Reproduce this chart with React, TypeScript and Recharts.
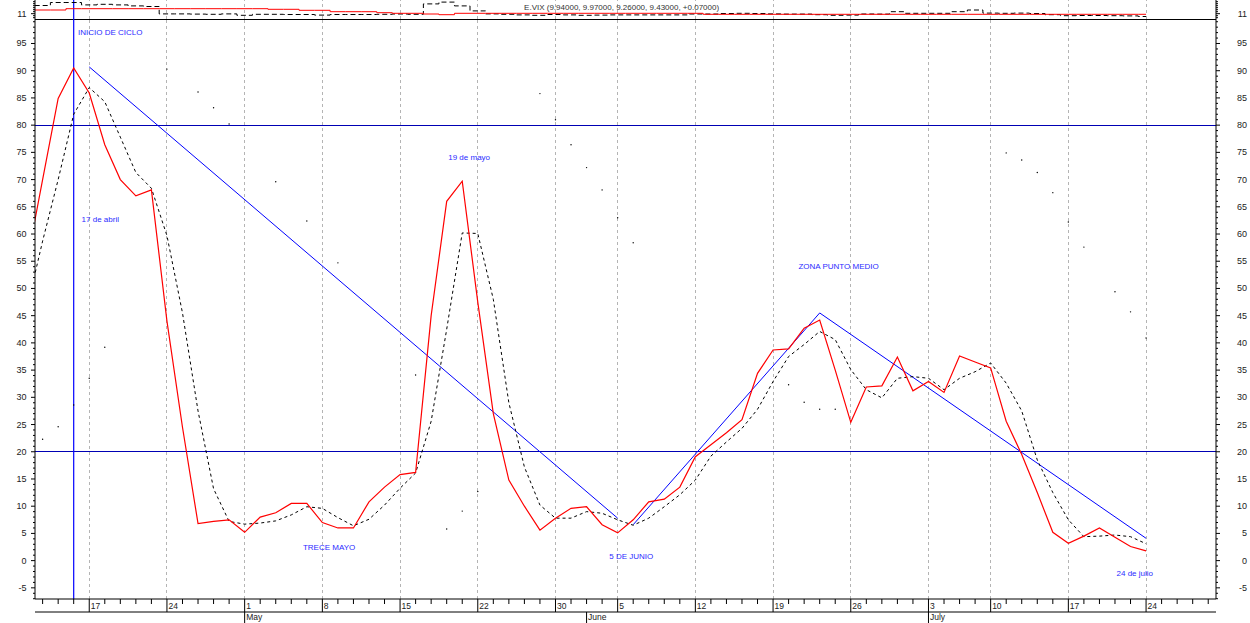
import React from "react";
import { ComposedChart, LineChart, Line, XAxis, YAxis, ReferenceLine, ReferenceDot } from "recharts";

// trading days, Apr 10 -> Jul 28
const days = [
  10, 11, 12, 13, 17, 18, 19, 20, 21, 24, 25, 26, 27, 28,
  1, 2, 3, 4, 5, 8, 9, 10, 11, 12, 15, 16, 17, 18, 19, 22, 23, 24, 25, 26, 30, 31,
  1, 2, 5, 6, 7, 8, 9, 12, 13, 14, 15, 16, 19, 20, 21, 22, 23, 26, 27, 28, 29, 30,
  3, 5, 6, 7, 10, 11, 12, 13, 14, 17, 18, 19, 20, 21, 24, 25, 26, 27, 28,
];
const weekStarts = [4, 9, 14, 19, 24, 29, 34, 38, 43, 48, 53, 58, 62, 67, 72];
const months = [
  { i: 14, label: "May" },
  { i: 36, label: "June" },
  { i: 58, label: "July" },
];

const oscillator = [
  55, 70, 84.9, 90.5, 85.9, 76.4, 70, 67, 68.1, 44, 24.5, 6.8, 7.2, 7.5,
  5.2, 8, 8.8, 10.5, 10.5, 7, 6, 6, 10.8, 13.5, 15.8, 16.2, 45, 66, 69.7, 47.5, 27, 14.8, 10, 5.6, 7.8, 9.6,
  9.9, 6.6, 5.1, 7.5, 10.8, 11.3, 13.5, 19.1, 21.3, 23.5, 25.9, 34.4, 38.7, 38.9, 42.7, 44.2, 35, 25.4, 31.9, 32.1, 37.4, 31.2,
  32.9, 30.9, 37.6, 36.5, 35.4, 25.6, 19.5, 12.5, 5.2, 3.2, 4.5, 6, 4.3, 2.6, 1.8,
];
const signal = [
  46.5, 58.7, 70, 82, 86.9, 84.3, 77.8, 71.3, 68.4, 59.7, 45.5, 27.5, 13.2, 7.2,
  6.7, 6.9, 7.3, 8.4, 9.9, 9.6, 7.9, 6.4, 7.6, 10.2, 13.3, 16.1, 25.6, 42.5, 60.2, 60.1, 48, 29, 17.2, 10.2, 7.8, 7.8,
  9, 8.7, 7.5, 6.5, 7.8, 9.9, 12.1, 14.8, 19.2, 21.8, 24.3, 27.8, 32.9, 37.5, 39.7, 42.1, 40.6, 35.1, 31.4, 29.9, 33.5, 33.8,
  33.5, 31.4, 33.5, 34.7, 36.3, 32.6, 27.5, 18.5, 12.5, 7.5, 4.4, 4.5, 4.7, 4.4, 3.1,
];
// sparse dotted series (one pixel per day), null where not seen
const dotted = [
  null, 22.3, 24.6, 28.6, 33.5, 39.2, null, null, null, 90.3, null, 86.1, 83.2, 80.2,
  null, null, 69.6, null, 62.4, null, 54.7, null, null, null, null, 34.1, null, 5.8, 9.1, 12.7, null, null, null, 85.8, 81, 76.4,
  72.2, 68.1, 63, 58.4, null, null, null, null, null, null, null, null, null, 32.3, 29.1, 27.8, 27.8, null, null, null, null, null,
  null, null, null, null, null, 74.9, 73.6, 71.3, 67.6, 62.2, 57.6, null, 49.4, 45.7, 40.9,
];

// top strip: E.VIX close and its average
const vixClose = [
  14.9, 15.1, 16.6, 16.6, 15.4, 15.7, 15.4, 14.9, 14.6, 10.9, 10.9, 10.8, 10.7, 10.9,
  10.2, 10.7, 10.7, 10.6, 10.6, 10.3, 10.6, 10.6, 10.6, 10.7, 10.85, 10.7, 15.9, 16.8, 14.9, 12.4, 10.9, 10.7, 10.4, 10.2, 10.6, 10.4,
  10.2, 10.3, 10.4, 10.4, 10.4, 10.4, 10.4, 10.85, 10.85, 11.1, 11.2, 11.1, 10.9, 10.8, 10.8, 10.5, 10.2, 10.3, 10.85, 10.8, 12, 11.2,
  11.2, 11.2, 12, 12.85, 11.3, 11.2, 11.3, 11.1, 10.5, 10, 10.1, 10.1, 10, 9.9, 9.6,
];
const vixAvg = [
  12.85, 12.85, 12.85, 13.5, 13.5, 13.5, 13.5, 13.5, 13.5, 13.5, 13.5, 13.5, 13.5, 13.5,
  13.5, 13.5, 13.2, 13.2, 12.7, 12.7, 12, 12, 12, 11.5, 11.2, 11.2, 10.85, 10.5, 11.2, 11.2, 11.2, 11.2, 11.2, 11.2, 11.2, 11.2,
  11.2, 11.2, 11.2, 11.2, 11.2, 11.2, 11.2, 11.2, 10.7, 10.7, 10.7, 10.7, 10.7, 10.7, 10.7, 10.7, 10.7, 10.7, 10.7, 10.7, 10.7, 10.7,
  10.7, 10.7, 10.7, 10.7, 10.7, 10.7, 10.7, 10.7, 10.7, 10.7, 10.7, 10.7, 10.7, 10.7, 10.7,
];

const trendLines = [
  [{ i: 4, v: 90.7 }, { i: 38, v: 7.8 }],
  [{ i: 39, v: 6.6 }, { i: 51, v: 45.5 }],
  [{ i: 51, v: 45.5 }, { i: 72, v: 4.1 }],
];
const cycleStart = 3;
const levels = [80, 20];

const notes = [
  { text: "INICIO DE CICLO", i: 3.28, v: 97 },
  { text: "17 de abril", i: 3.51, v: 62.6 },
  { text: "19 de mayo", i: 27.1, v: 74.1 },
  { text: "TRECE MAYO", i: 17.75, v: 2.5 },
  { text: "5 DE JUNIO", i: 37.46, v: 0.7 },
  { text: "ZONA PUNTO MEDIO", i: 49.63, v: 54 },
  { text: "24 de julio", i: 70.1, v: -2.4 },
];
const title = "E.VIX (9.94000, 9.97000, 9.26000, 9.43000, +0.07000)";

const rows = oscillator.map((o, i) => ({
  i,
  osc: o,
  sig: signal[i],
  dot: dotted[i],
  vix: vixClose[i],
  avg: vixAvg[i],
}));

const X_DOMAIN = [0.51, 76.5];
const Y_DOMAIN = [-7.05, 99.5];
const TOP_DOMAIN = [8.35, 17.85];
const PL = 35;
const PR = 1216;
const AXIS_Y = 599;
const ROW_Y = 612;
const FONT = "'Liberation Sans', Arial, sans-serif";

const xTicks = days.map((_, i) => i).filter((i) => i >= 1 && i <= 76);
const yTicks: number[] = [];
for (let v = -7; v <= 99; v++) yTicks.push(v);
const topTicks = [9, 10, 11, 12, 13, 14, 15, 16, 17];

const dayTick = (p: any) => {
  const i = p.payload.value;
  const week = weekStarts.includes(i);
  return (
    <g>
      <line x1={p.x} x2={p.x} y1={AXIS_Y} y2={week ? ROW_Y : AXIS_Y + 5} stroke="#000" />
      {week && (
        <text x={p.x + 1.5} y={608.5} fontSize={8.5} fontFamily={FONT} fill="#222">
          {days[i]}
        </text>
      )}
    </g>
  );
};

const monthTick = (p: any) => {
  const m = months.find((mm) => mm.i === p.payload.value);
  return (
    <g>
      <line x1={p.x} x2={p.x} y1={ROW_Y} y2={623} stroke="#000" />
      <text x={p.x + 1.5} y={619.5} fontSize={8.5} fontFamily={FONT} fill="#222">
        {m ? m.label : ""}
      </text>
    </g>
  );
};

const sideTick = (side: "l" | "r", labelEvery: number, only?: number) => (p: any) => {
  const v = p.payload.value;
  const major = only !== undefined ? v === only : v % labelEvery === 0;
  const len = major ? 4 : 2;
  const x0 = side === "l" ? PL : PR;
  const x1 = side === "l" ? PL - len : PR + len;
  return (
    <g>
      <line x1={x0} x2={x1} y1={p.y} y2={p.y} stroke="#000" />
      {major && (
        <text
          x={side === "l" ? 26.5 : 1247}
          y={p.y}
          dy={3}
          textAnchor="end"
          fontSize={9}
          fontFamily={FONT}
          fill="#222"
        >
          {v}
        </text>
      )}
    </g>
  );
};

const noteShape = (text: string, color: string) => (p: any) => (
  <text
    x={p.cx}
    y={p.cy}
    dominantBaseline="central"
    fontSize={8}
    fontFamily={FONT}
    fill={color}
  >
    {text}
  </text>
);

export default function App() {
  return (
    <div style={{ position: "absolute", left: 0, top: 0, width: 1250, height: 623, background: "#fff" }}>
      <div style={{ position: "absolute", left: 0, top: 0 }}>
        <ComposedChart width={1250} height={623} data={rows} margin={{ top: 19, right: 0, bottom: 0, left: 0 }}>
          <XAxis
            dataKey="i"
            type="number"
            domain={X_DOMAIN}
            ticks={xTicks}
            interval={0}
            height={13}
            tick={dayTick}
            tickLine={false}
            axisLine={{ stroke: "#000" }}
            allowDataOverflow
          />
          <XAxis
            xAxisId="m"
            dataKey="i"
            type="number"
            domain={X_DOMAIN}
            ticks={months.map((m) => m.i)}
            interval={0}
            height={11}
            tick={monthTick}
            tickLine={false}
            axisLine={{ stroke: "#000" }}
            allowDataOverflow
          />
          <YAxis
            yAxisId="l"
            width={35}
            domain={Y_DOMAIN}
            ticks={yTicks}
            interval={0}
            tick={sideTick("l", 5)}
            tickLine={false}
            axisLine={{ stroke: "#000" }}
            allowDataOverflow
          />
          <YAxis
            yAxisId="r"
            orientation="right"
            width={34}
            domain={Y_DOMAIN}
            ticks={yTicks}
            interval={0}
            tick={sideTick("r", 5)}
            tickLine={false}
            axisLine={{ stroke: "#000" }}
            allowDataOverflow
          />
          {weekStarts.map((w) => (
            <ReferenceLine key={"g" + w} yAxisId="l" x={w} stroke="#b4b4b4" strokeDasharray="3 3" shapeRendering="crispEdges" />
          ))}
          <ReferenceLine yAxisId="l" y={Y_DOMAIN[1]} stroke="#000" shapeRendering="crispEdges" />
          {levels.map((lv) => (
            <ReferenceLine key={"lv" + lv} yAxisId="l" y={lv} stroke="#0000b4" shapeRendering="crispEdges" />
          ))}
          <ReferenceLine yAxisId="l" x={cycleStart} stroke="#0000ff" strokeWidth={1.2} />
          {trendLines.map((t, k) => (
            <ReferenceLine
              key={"t" + k}
              yAxisId="l"
              segment={[
                { x: t[0].i, y: t[0].v },
                { x: t[1].i, y: t[1].v },
              ]}
              stroke="#0000ff"
            />
          ))}
          <Line
            yAxisId="l"
            dataKey="dot"
            type="linear"
            stroke="none"
            dot={{ r: 0.7, fill: "#000", stroke: "none" }}
            isAnimationActive={false}
          />
          <Line
            yAxisId="l"
            dataKey="sig"
            type="linear"
            stroke="#000"
            strokeWidth={1}
            strokeDasharray="3 3"
            dot={false}
            isAnimationActive={false}
          />
          <Line
            yAxisId="l"
            dataKey="osc"
            type="linear"
            stroke="#ff0000"
            strokeWidth={1.2}
            dot={false}
            isAnimationActive={false}
          />
          {notes.map((n) => (
            <ReferenceDot
              key={n.text}
              yAxisId="l"
              x={n.i}
              y={n.v}
              r={0}
              shape={noteShape(n.text, "#2b2bff")}
            />
          ))}
        </ComposedChart>
      </div>
      <div style={{ position: "absolute", left: 0, top: 0 }}>
        <LineChart width={1250} height={19} data={rows} margin={{ top: 0, right: 0, bottom: 0, left: 0 }}>
          <XAxis dataKey="i" type="number" domain={X_DOMAIN} hide allowDataOverflow />
          <YAxis
            yAxisId="l"
            width={35}
            domain={TOP_DOMAIN}
            ticks={topTicks}
            interval={0}
            tick={sideTick("l", 5, 11)}
            tickLine={false}
            axisLine={{ stroke: "#000" }}
            allowDataOverflow
          />
          <YAxis
            yAxisId="r"
            orientation="right"
            width={34}
            domain={TOP_DOMAIN}
            ticks={topTicks}
            interval={0}
            tick={sideTick("r", 5, 11)}
            tickLine={false}
            axisLine={{ stroke: "#000" }}
            allowDataOverflow
          />
          {weekStarts.map((w) => (
            <ReferenceLine key={"tg" + w} yAxisId="l" x={w} stroke="#b4b4b4" strokeDasharray="3 3" shapeRendering="crispEdges" />
          ))}
          <ReferenceLine yAxisId="l" x={cycleStart} stroke="#0000ff" strokeWidth={1.2} />
          <Line
            yAxisId="l"
            dataKey="vix"
            type="step"
            stroke="#000"
            strokeWidth={1}
            strokeDasharray="5 3"
            dot={false}
            isAnimationActive={false}
          />
          <Line
            yAxisId="l"
            dataKey="avg"
            type="step"
            stroke="#ff0000"
            strokeWidth={1}
            dot={false}
            isAnimationActive={false}
          />
          <ReferenceDot yAxisId="l" x={31.98} y={14.2} r={0} shape={noteShape(title, "#333")} />
        </LineChart>
      </div>
    </div>
  );
}
